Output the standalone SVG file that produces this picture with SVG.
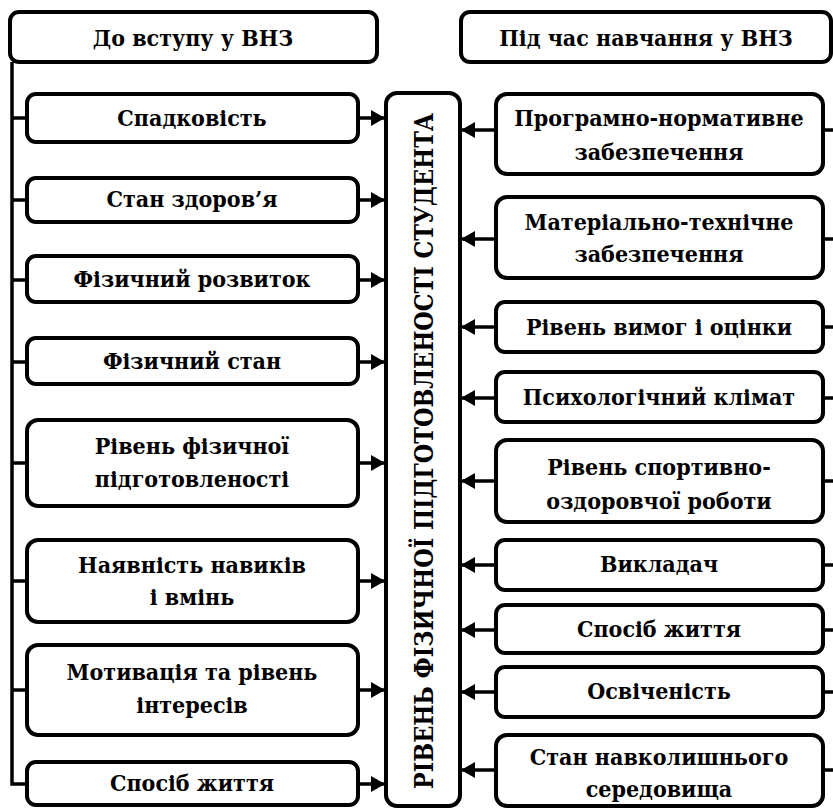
<svg xmlns="http://www.w3.org/2000/svg" width="833" height="808" viewBox="0 0 833 808">
<style>
.box{fill:#fff;stroke:#000;stroke-width:4;}
.t{font-family:'DejaVu Serif Condensed','DejaVu Serif','Liberation Serif',serif;font-stretch:condensed;font-weight:700;font-size:23px;fill:#000;text-anchor:middle;dominant-baseline:central;}
.v{font-size:26px;}
.ln{stroke:#000;stroke-width:3.5;fill:none;}
</style>
<defs>
<marker id="ah" viewBox="0 0 14 16" refX="14" refY="8" markerWidth="14" markerHeight="16" markerUnits="userSpaceOnUse" orient="auto">
<path d="M0,0 L14,8 L0,16 z" fill="#000"/>
</marker>
</defs>
<g id="connectors">
<path class="ln" d="M12,62 V784 H27"/>
<path class="ln" d="M12,118 H27 M12,200 H27 M12,280 H27 M12,362 H27 M12,463 H27 M12,581 H27 M12,690 H27"/>
<line class="ln" x1="358" y1="118" x2="385" y2="118" marker-end="url(#ah)"/>
<line class="ln" x1="358" y1="200" x2="385" y2="200" marker-end="url(#ah)"/>
<line class="ln" x1="358" y1="280" x2="385" y2="280" marker-end="url(#ah)"/>
<line class="ln" x1="358" y1="362" x2="385" y2="362" marker-end="url(#ah)"/>
<line class="ln" x1="358" y1="463" x2="385" y2="463" marker-end="url(#ah)"/>
<line class="ln" x1="358" y1="581" x2="385" y2="581" marker-end="url(#ah)"/>
<line class="ln" x1="358" y1="690" x2="385" y2="690" marker-end="url(#ah)"/>
<line class="ln" x1="358" y1="784" x2="385" y2="784" marker-end="url(#ah)"/>
<line class="ln" x1="496" y1="130" x2="461" y2="130" marker-end="url(#ah)"/>
<line class="ln" x1="496" y1="239" x2="461" y2="239" marker-end="url(#ah)"/>
<line class="ln" x1="496" y1="327" x2="461" y2="327" marker-end="url(#ah)"/>
<line class="ln" x1="496" y1="398" x2="461" y2="398" marker-end="url(#ah)"/>
<line class="ln" x1="496" y1="481" x2="461" y2="481" marker-end="url(#ah)"/>
<line class="ln" x1="496" y1="565" x2="461" y2="565" marker-end="url(#ah)"/>
<line class="ln" x1="496" y1="630" x2="461" y2="630" marker-end="url(#ah)"/>
<line class="ln" x1="496" y1="692" x2="461" y2="692" marker-end="url(#ah)"/>
<line class="ln" x1="496" y1="770" x2="461" y2="770" marker-end="url(#ah)"/>
<path class="ln" d="M823,130 H833 M823,239 H833 M823,327 H833 M823,398 H833 M823,481 H833 M823,565 H833 M823,630 H833 M823,692 H833 M823,770 H833"/>
</g>
<g id="hdr-left"><rect class="box" x="10" y="12" width="367" height="50" rx="9"/><text class="t" x="193" y="37">До вступу у ВНЗ</text></g>
<g id="hdr-right"><rect class="box" x="461" y="12" width="370" height="50" rx="9"/><text class="t" x="646" y="37">Під час навчання у ВНЗ</text></g>
<g id="center"><rect class="box" x="386" y="93" width="74" height="713" rx="11"/><text class="t v" transform="translate(424,451) rotate(-90)" textLength="676" lengthAdjust="spacingAndGlyphs">РІВЕНЬ ФІЗИЧНОЇ ПІДГОТОВЛЕНОСТІ СТУДЕНТА</text></g>
<g id="l1"><rect class="box" x="27" y="94" width="331" height="48" rx="9"/><text class="t" x="192" y="117">Спадковість</text></g>
<g id="l2"><rect class="box" x="27" y="178" width="331" height="44" rx="9"/><text class="t" x="192" y="198">Стан здоров’я</text></g>
<g id="l3"><rect class="box" x="27" y="256" width="331" height="46" rx="9"/><text class="t" x="192" y="278">Фізичний розвиток</text></g>
<g id="l4"><rect class="box" x="27" y="338" width="331" height="46" rx="9"/><text class="t" x="192" y="360">Фізичний стан</text></g>
<g id="l5"><rect class="box" x="27" y="420" width="331" height="86" rx="11"/><text class="t" x="192" y="445">Рівень фізичної</text><text class="t" x="192" y="478">підготовленості</text></g>
<g id="l6"><rect class="box" x="27" y="540" width="331" height="82" rx="11"/><text class="t" x="192" y="564">Наявність навиків</text><text class="t" x="192" y="596">і вмінь</text></g>
<g id="l7"><rect class="box" x="27" y="645" width="331" height="90" rx="11"/><text class="t" x="192" y="671">Мотивація та рівень</text><text class="t" x="192" y="704">інтересів</text></g>
<g id="l8"><rect class="box" x="27" y="762" width="331" height="43" rx="9"/><text class="t" x="192" y="782">Спосіб життя</text></g>
<g id="r1"><rect class="box" x="496" y="94" width="327" height="80" rx="11"/><text class="t" x="659" y="117">Програмно-нормативне</text><text class="t" x="659" y="151">забезпечення</text></g>
<g id="r2"><rect class="box" x="496" y="197" width="327" height="81" rx="11"/><text class="t" x="659" y="221">Матеріально-технічне</text><text class="t" x="659" y="253">забезпечення</text></g>
<g id="r3"><rect class="box" x="496" y="302" width="327" height="50" rx="9"/><text class="t" x="659" y="326">Рівень вимог і оцінки</text></g>
<g id="r4"><rect class="box" x="496" y="372" width="327" height="50" rx="9"/><text class="t" x="659" y="396">Психологічний клімат</text></g>
<g id="r5"><rect class="box" x="496" y="440" width="327" height="82" rx="11"/><text class="t" x="659" y="466">Рівень спортивно-</text><text class="t" x="659" y="500">оздоровчої роботи</text></g>
<g id="r6"><rect class="box" x="496" y="540" width="327" height="50" rx="9"/><text class="t" x="659" y="563">Викладач</text></g>
<g id="r7"><rect class="box" x="496" y="605" width="327" height="48" rx="9"/><text class="t" x="659" y="628">Спосіб життя</text></g>
<g id="r8"><rect class="box" x="496" y="667" width="327" height="50" rx="9"/><text class="t" x="659" y="690">Освіченість</text></g>
<g id="r9"><rect class="box" x="496" y="735" width="327" height="71" rx="11"/><text class="t" x="659" y="756">Стан навколишнього</text><text class="t" x="659" y="788">середовища</text></g>
</svg>
